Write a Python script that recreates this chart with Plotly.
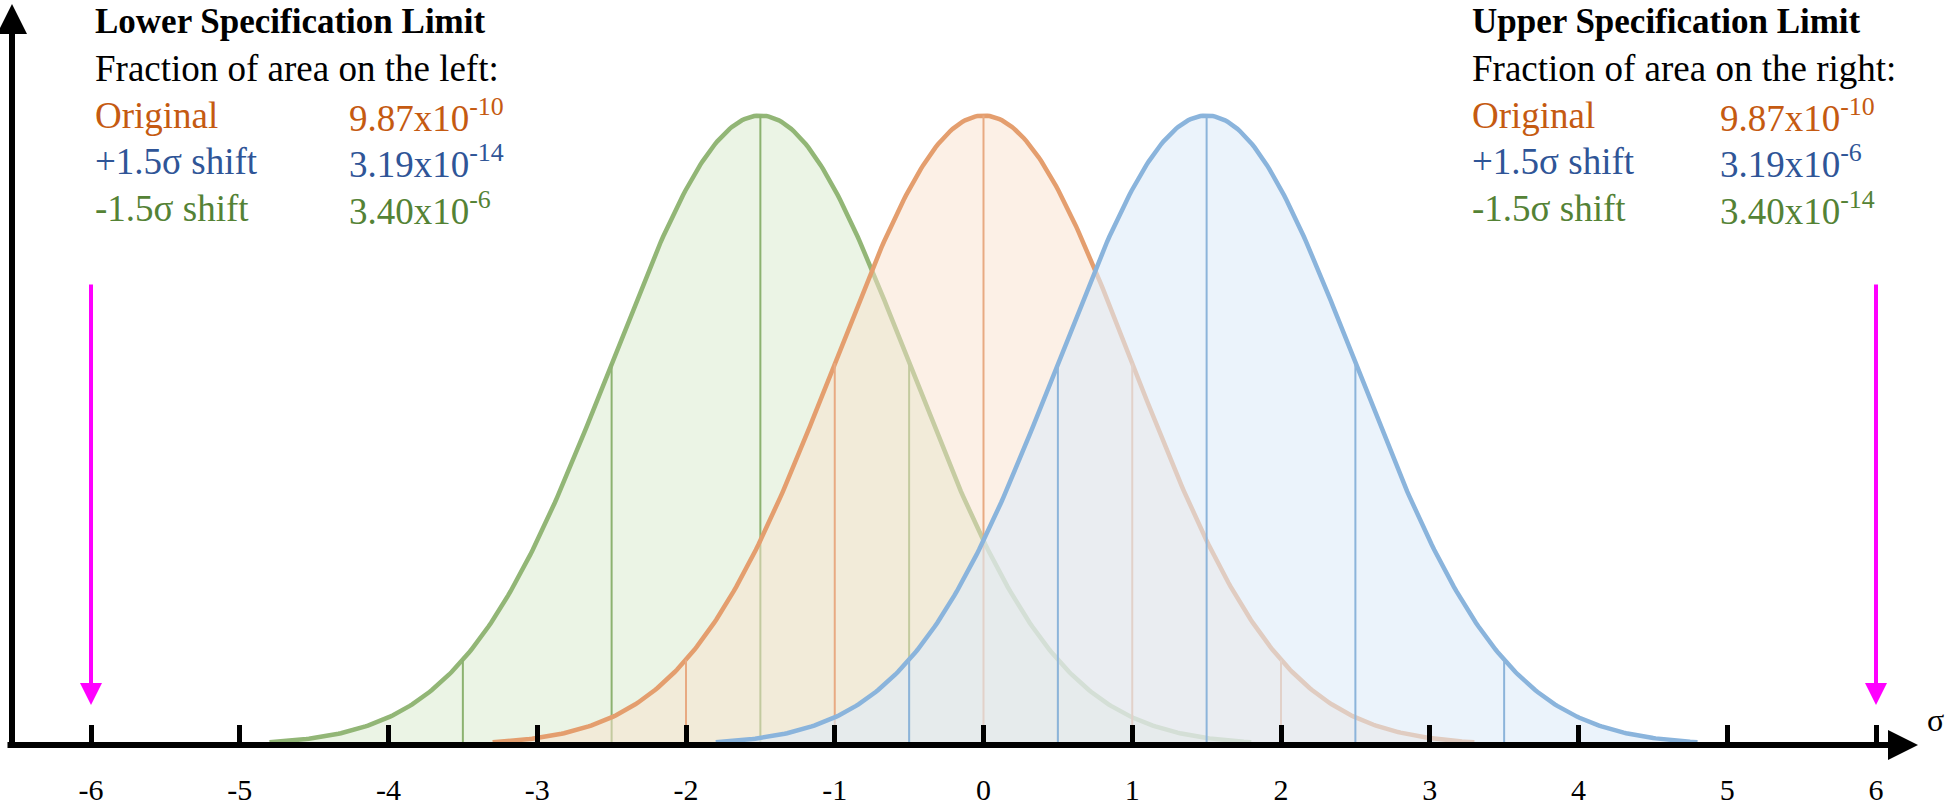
import numpy as np
import plotly.graph_objects as go

# ---------------- data ----------------
tick_values = [-6, -5, -4, -3, -2, -1, 0, 1, 2, 3, 4, 5, 6]
tick_labels = ["-6", "-5", "-4", "-3", "-2", "-1", "0", "1", "2", "3", "4", "5", "6"]

series_names = ["-1.5σ shift", "Original", "+1.5σ shift"]   # drawn back to front
series_means = [-1.5, 0.0, 1.5]
series_sd = [1.0, 1.0, 1.0]
curve_halfwidth = 3.3          # curves drawn over mean ± 3.3σ
guide_offsets = [-2, -1, 0, 1, 2]   # vertical guide lines at mean + k·σ

spec_limits = [-6, 6]

table_rows = ["Original", "+1.5σ shift", "-1.5σ shift"]
lsl_values = ["9.87x10<sup>-10</sup>", "3.19x10<sup>-14</sup>", "3.40x10<sup>-6</sup>"]
usl_values = ["9.87x10<sup>-10</sup>", "3.19x10<sup>-6</sup>", "3.40x10<sup>-14</sup>"]

# ---------------- styles ----------------
line_colors = {"-1.5σ shift": "rgb(146,182,118)", "Original": "rgb(228,158,110)", "+1.5σ shift": "rgb(138,180,220)"}
guide_colors = {"-1.5σ shift": "rgb(140,178,112)", "Original": "rgb(232,170,130)", "+1.5σ shift": "rgb(140,180,218)"}
fill_colors = {"-1.5σ shift": "rgba(222,237,212,0.6)", "Original": "rgba(250,226,206,0.5)", "+1.5σ shift": "rgba(222,235,248,0.6)"}
text_colors = {"Original": "#C55A11", "+1.5σ shift": "#2F5597", "-1.5σ shift": "#548235"}
FONT = "Liberation Serif, Times New Roman, serif"
TITLE_FS = 35
FS = 37
TICK_FS = 30

W, H = 1948, 805
X0_PX, PX_PER_SIGMA = 983.5, 148.75
AXIS_Y_PX = 745
PEAK_Y_PX = 115.5


def pdf(x, m, s):
    return np.exp(-0.5 * ((x - m) / s) ** 2) / (s * np.sqrt(2 * np.pi))


peak = pdf(0, 0, 1)
x_range = [-X0_PX / PX_PER_SIGMA, (W - X0_PX) / PX_PER_SIGMA]
y_top = AXIS_Y_PX / (AXIS_Y_PX - PEAK_Y_PX) * peak
y_range = [0, y_top]


def xd(px):
    return (px - X0_PX) / PX_PER_SIGMA


def yd(py):
    return (AXIS_Y_PX - py) / (AXIS_Y_PX - PEAK_Y_PX) * peak


fig = go.Figure()

for name, m, s in zip(series_names, series_means, series_sd):
    xs = np.linspace(m - curve_halfwidth * s, m + curve_halfwidth * s, 400)
    ys = pdf(xs, m, s)
    fig.add_trace(go.Scatter(x=xs, y=ys, mode="lines", fill="tozeroy",
                             fillcolor=fill_colors[name],
                             line=dict(color=line_colors[name], width=4.5),
                             hoverinfo="skip", showlegend=False))
    gx, gy = [], []
    for k in guide_offsets:
        xv = m + k * s
        gx += [xv, xv, None]
        gy += [0, pdf(xv, m, s), None]
    fig.add_trace(go.Scatter(x=gx, y=gy, mode="lines",
                             line=dict(color=guide_colors[name], width=2),
                             hoverinfo="skip", showlegend=False))

annotations = []

# axes drawn as arrows
annotations.append(dict(x=xd(1918), y=0, ax=xd(6), ay=0, xref="x", yref="y", axref="x", ayref="y",
                        showarrow=True, arrowhead=2, arrowsize=1.0, arrowwidth=6, arrowcolor="black", text=""))
annotations.append(dict(x=xd(12), y=yd(4), ax=xd(12), ay=yd(748), xref="x", yref="y", axref="x", ayref="y",
                        showarrow=True, arrowhead=2, arrowsize=1.0, arrowwidth=6, arrowcolor="black", text=""))
annotations.append(dict(x=xd(1935), y=yd(720), xref="x", yref="y", text="σ", showarrow=False,
                        font=dict(family=FONT, size=TICK_FS + 2, color="black")))

# spec limit arrows
for lim in spec_limits:
    annotations.append(dict(x=lim, y=yd(705), ax=lim, ay=yd(283), xref="x", yref="y", axref="x", ayref="y",
                            showarrow=True, arrowhead=2, arrowsize=1.1, arrowwidth=4, arrowcolor="#FF00FF", text=""))

# text blocks
line_y = [21, 68, 115, 162, 209]
blocks = [
    (93, 347, "Lower Specification Limit", "Fraction of area on the left:", lsl_values),
    (1470, 1718, "Upper Specification Limit", "Fraction of area on the right:", usl_values),
]
for x_lab, x_val, title, sub, vals in blocks:
    annotations.append(dict(x=x_lab / W, y=(AXIS_Y_PX - line_y[0]) / AXIS_Y_PX, xref="paper", yref="paper",
                            xanchor="left", yanchor="middle", showarrow=False, text="<b>" + title + "</b>",
                            font=dict(family=FONT, size=TITLE_FS, color="black")))
    annotations.append(dict(x=x_lab / W, y=(AXIS_Y_PX - line_y[1]) / AXIS_Y_PX, xref="paper", yref="paper",
                            xanchor="left", yanchor="middle", showarrow=False, text=sub,
                            font=dict(family=FONT, size=FS, color="black")))
    for i, (row, val) in enumerate(zip(table_rows, vals)):
        yy = (AXIS_Y_PX - line_y[2 + i]) / AXIS_Y_PX
        annotations.append(dict(x=x_lab / W, y=yy, xref="paper", yref="paper", xanchor="left",
                                yanchor="middle", showarrow=False, text=row,
                                font=dict(family=FONT, size=FS, color=text_colors[row])))
        annotations.append(dict(x=x_val / W, y=yy, xref="paper", yref="paper", xanchor="left",
                                yanchor="middle", showarrow=False, text=val,
                                font=dict(family=FONT, size=FS, color=text_colors[row])))

fig.update_layout(
    width=W, height=H,
    margin=dict(l=0, r=0, t=0, b=H - AXIS_Y_PX, pad=0, autoexpand=False),
    paper_bgcolor="white", plot_bgcolor="white",
    showlegend=False,
    annotations=annotations,
    xaxis=dict(range=x_range, showgrid=False, zeroline=False, showline=False, automargin=False,
               tickmode="array", tickvals=tick_values, ticktext=tick_labels,
               ticks="inside", ticklen=20, tickwidth=5, tickcolor="black",
               ticklabelstandoff=24,
               tickfont=dict(family=FONT, size=TICK_FS, color="black")),
    yaxis=dict(range=y_range, showgrid=False, zeroline=False, showline=False, automargin=False,
               showticklabels=False, ticks=""),
)

fig.write_html("out.html", config={"displayModeBar": False},
               post_script="document.body.style.margin='0';document.body.style.overflow='hidden';")
